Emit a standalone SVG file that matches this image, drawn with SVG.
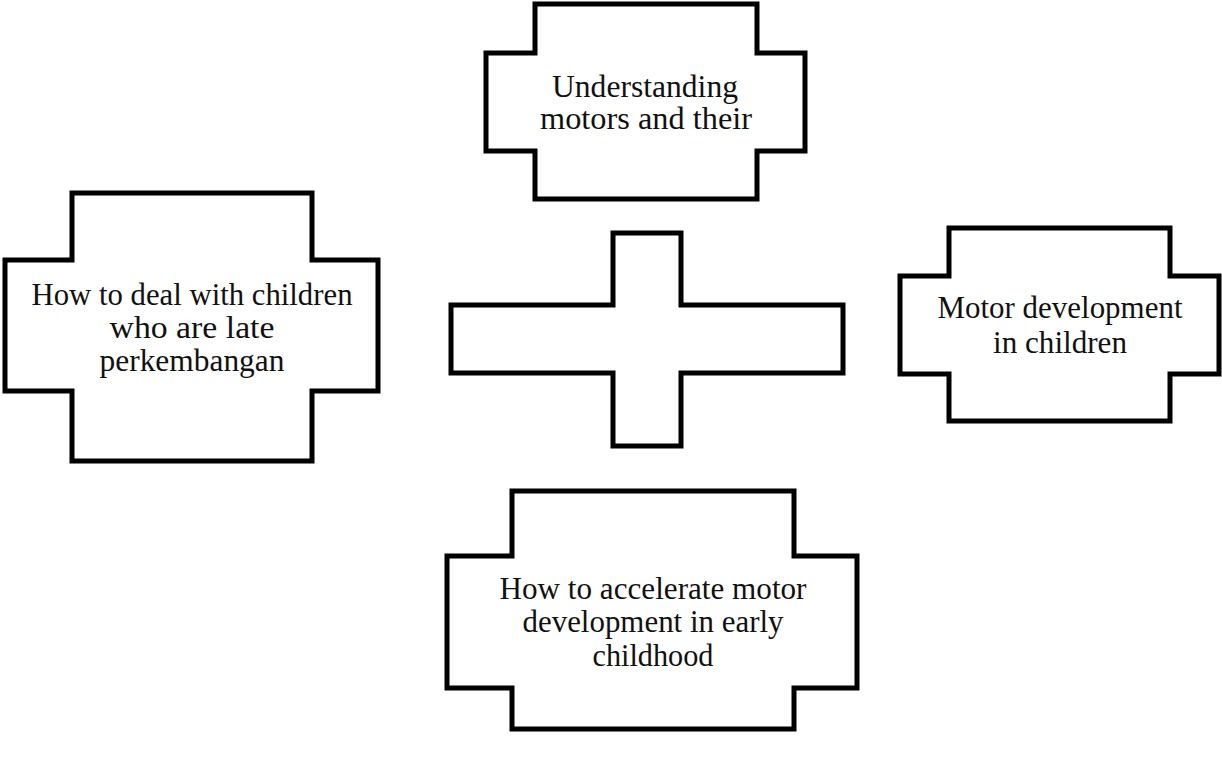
<svg xmlns="http://www.w3.org/2000/svg" width="1222" height="757" viewBox="0 0 1222 757">
<style>
.shape{fill:#fff;stroke:#000;stroke-width:5;stroke-linejoin:miter}
.lbl{font-family:"Liberation Serif","DejaVu Serif",serif;font-size:31px;fill:#111;text-anchor:middle}
</style>
<rect width="1222" height="757" fill="#fff"/>
<g id="node-top">
<path class="shape" d="M535,4 H757 V53 H805 V151 H757 V199 H535 V151 H486 V53 H535 Z"/>
<text class="lbl" x="645" y="97" textLength="186" lengthAdjust="spacingAndGlyphs">Understanding</text>
<text class="lbl" x="646" y="129" textLength="212" lengthAdjust="spacingAndGlyphs">motors and their</text>
</g>
<g id="node-left">
<path class="shape" d="M72,193 H312 V260 H378 V391 H312 V461 H72 V391 H5 V260 H72 Z"/>
<text class="lbl" x="192" y="305" textLength="321" lengthAdjust="spacingAndGlyphs">How to deal with children</text>
<text class="lbl" x="192" y="338" textLength="165" lengthAdjust="spacingAndGlyphs">who are late</text>
<text class="lbl" x="192" y="371" textLength="185" lengthAdjust="spacingAndGlyphs">perkembangan</text>
</g>
<g id="node-center">
<path class="shape" d="M613,233 H681 V305 H843 V373 H681 V446 H613 V373 H451 V305 H613 Z"/>
</g>
<g id="node-right">
<path class="shape" d="M949,228 H1170 V276 H1219 V374 H1170 V421 H949 V374 H900 V276 H949 Z"/>
<text class="lbl" x="1060" y="318" textLength="245" lengthAdjust="spacingAndGlyphs">Motor development</text>
<text class="lbl" x="1060" y="353" textLength="134" lengthAdjust="spacingAndGlyphs">in children</text>
</g>
<g id="node-bottom">
<path class="shape" d="M512,491 H794 V556 H857 V688 H794 V729 H512 V688 H447 V556 H512 Z"/>
<text class="lbl" x="653" y="599" textLength="307" lengthAdjust="spacingAndGlyphs">How to accelerate motor</text>
<text class="lbl" x="653" y="632" textLength="261" lengthAdjust="spacingAndGlyphs">development in early</text>
<text class="lbl" x="653" y="666" textLength="121" lengthAdjust="spacingAndGlyphs">childhood</text>
</g>
<g id="connectors"></g>
</svg>
